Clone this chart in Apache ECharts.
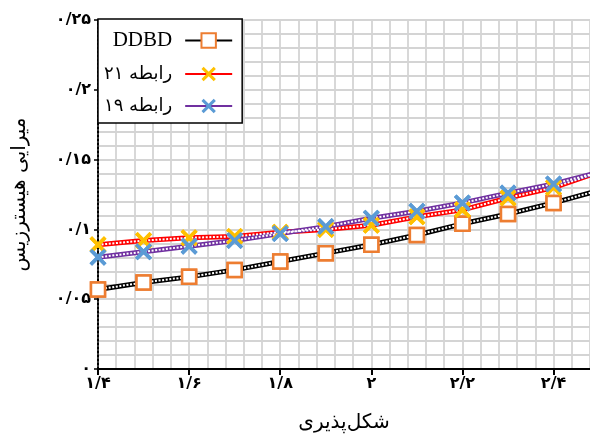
<!DOCTYPE html>
<html>
<head>
<meta charset="utf-8">
<script src="https://cdn.jsdelivr.net/npm/echarts@6/dist/echarts.min.js"></script>
<style>
  html, body { margin: 0; padding: 0; background: #fff; }
  #chart { width: 590px; height: 439px; }
</style>
</head>
<body>
<div id="chart"></div>
<script>
// ductility values (x)
const ductility = [1.4, 1.5, 1.6, 1.7, 1.8, 1.9, 2.0, 2.1, 2.2, 2.3, 2.4, 2.5];
// hysteretic damping per curve
const ddbd = [0.057, 0.062, 0.066, 0.071, 0.077, 0.083, 0.089, 0.096, 0.104, 0.111, 0.119, 0.128];
const rabete21 = [0.089, 0.092, 0.094, 0.095, 0.098, 0.100, 0.103, 0.109, 0.114, 0.1225, 0.130, 0.141];
const rabete19 = [0.080, 0.084, 0.088, 0.092, 0.097, 0.102, 0.108, 0.113, 0.119, 0.126, 0.1325, 0.141];

const seriesNames = ['DDBD', 'رابطه ۲۱', 'رابطه ۱۹'];
const fa = '۰۱۲۳۴۵۶۷۸۹';
const toFa = v => String(+(+v).toFixed(2)).replace('.', '/').replace(/\d/g, d => fa[d]);

const xShape = 'path://M1.5,0 L5,3.5 L8.5,0 L10,1.5 L6.5,5 L10,8.5 L8.5,10 L5,6.5 L1.5,10 L0,8.5 L3.5,5 L0,1.5 Z';

const curves = [
  { name: seriesNames[0], values: ddbd, line: '#000000', marker: '#ED7D31', symbol: 'rect', empty: true },
  { name: seriesNames[1], values: rabete21, line: '#FF0000', marker: '#FFC000', symbol: xShape, empty: false },
  { name: seriesNames[2], values: rabete19, line: '#7030A0', marker: '#5B9BD5', symbol: xShape, empty: false }
];

const pairs = vals => ductility.map((x, i) => [x, vals[i]]);

const series = [];
curves.forEach(c => {
  const markerStyle = c.empty
    ? { color: '#fff', borderColor: c.marker, borderWidth: 2.5 }
    : { color: c.marker, borderWidth: 0 };
  // coloured line, used by the legend
  series.push({
    name: c.name, type: 'line', data: pairs(c.values), z: 2,
    symbol: c.symbol, symbolSize: c.empty ? 14 : 17,
    itemStyle: markerStyle,
    lineStyle: { color: c.line, width: 5 }
  });
  // white dots on top -> chain look
  series.push({
    name: c.name + '_dots', type: 'line', data: pairs(c.values), z: 3, silent: true,
    symbol: 'none',
    lineStyle: { color: '#fff', width: 2, type: [2, 1.6] }
  });
  // markers above everything
  series.push({
    name: c.name + '_mk', type: 'line', data: pairs(c.values), z: 4, silent: true,
    symbol: c.symbol, symbolSize: c.empty ? 14 : 17,
    itemStyle: markerStyle,
    lineStyle: { opacity: 0 }
  });
});

const labelFont = { fontFamily: 'DejaVu Sans', fontSize: 16, fontWeight: 'bold', color: '#000' };
const nameFont = { fontFamily: 'DejaVu Sans', fontSize: 20, color: '#000' };

const chart = echarts.init(document.getElementById('chart'));
chart.setOption({
  animation: false,
  grid: { left: 98, right: 0, top: 20, bottom: 70 },
  legend: {
    data: seriesNames,
    orient: 'vertical', left: 98, top: 19, align: 'right',
    padding: [11, 9, 8, 6], itemGap: 14, itemWidth: 47, itemHeight: 18,
    borderColor: '#000', borderWidth: 1.5, backgroundColor: '#fff',
    formatter: name => name === 'DDBD' ? '{a|DDBD}' : '{b|' + name + '}',
    textStyle: {
      color: '#000',
      rich: {
        a: { fontFamily: 'Liberation Serif', fontSize: 21, color: '#000', padding: [0, 8, 0, 0] },
        b: { fontFamily: 'DejaVu Sans', fontSize: 18, color: '#000', padding: [0, 8, 0, 0] }
      }
    }
  },
  xAxis: [{
    type: 'value', min: 1.4, max: 2.48, interval: 0.2,
    name: 'شکل‌پذیری', nameLocation: 'middle', nameGap: 44,
    nameTextStyle: nameFont,
    axisLine: { onZero: false, lineStyle: { color: '#000', width: 2 } },
    axisTick: { show: true, length: 6, lineStyle: { color: '#000', width: 2 } },
    axisLabel: Object.assign({ formatter: toFa, showMaxLabel: false, margin: 7 }, labelFont),
    splitLine: { show: false }
  }, {
    type: 'value', min: 1.4, max: 2.48, interval: 0.04, position: 'bottom',
    axisLine: { show: false }, axisTick: { show: false }, axisLabel: { show: false },
    splitLine: { show: true, lineStyle: { color: '#d4d4d4', width: 1.8 } }
  }],
  yAxis: {
    type: 'value', min: 0, max: 0.25, interval: 0.05,
    name: 'میرایی هیسترزیس', nameLocation: 'middle', nameRotate: 90, nameGap: 68,
    nameTextStyle: nameFont,
    axisLine: { show: true, lineStyle: { color: '#000', width: 2, type: [2, 2] } },
    axisTick: { show: true, length: 4, lineStyle: { color: '#000', width: 1.5 } },
    axisLabel: Object.assign({ formatter: toFa, margin: 7 }, labelFont),
    splitLine: { show: true, lineStyle: { color: '#d4d4d4', width: 1.8 } },
    minorTick: { show: false, splitNumber: 5 },
    minorSplitLine: { show: true, lineStyle: { color: '#d4d4d4', width: 1.8 } }
  },
  series: series
});
</script>
</body>
</html>
